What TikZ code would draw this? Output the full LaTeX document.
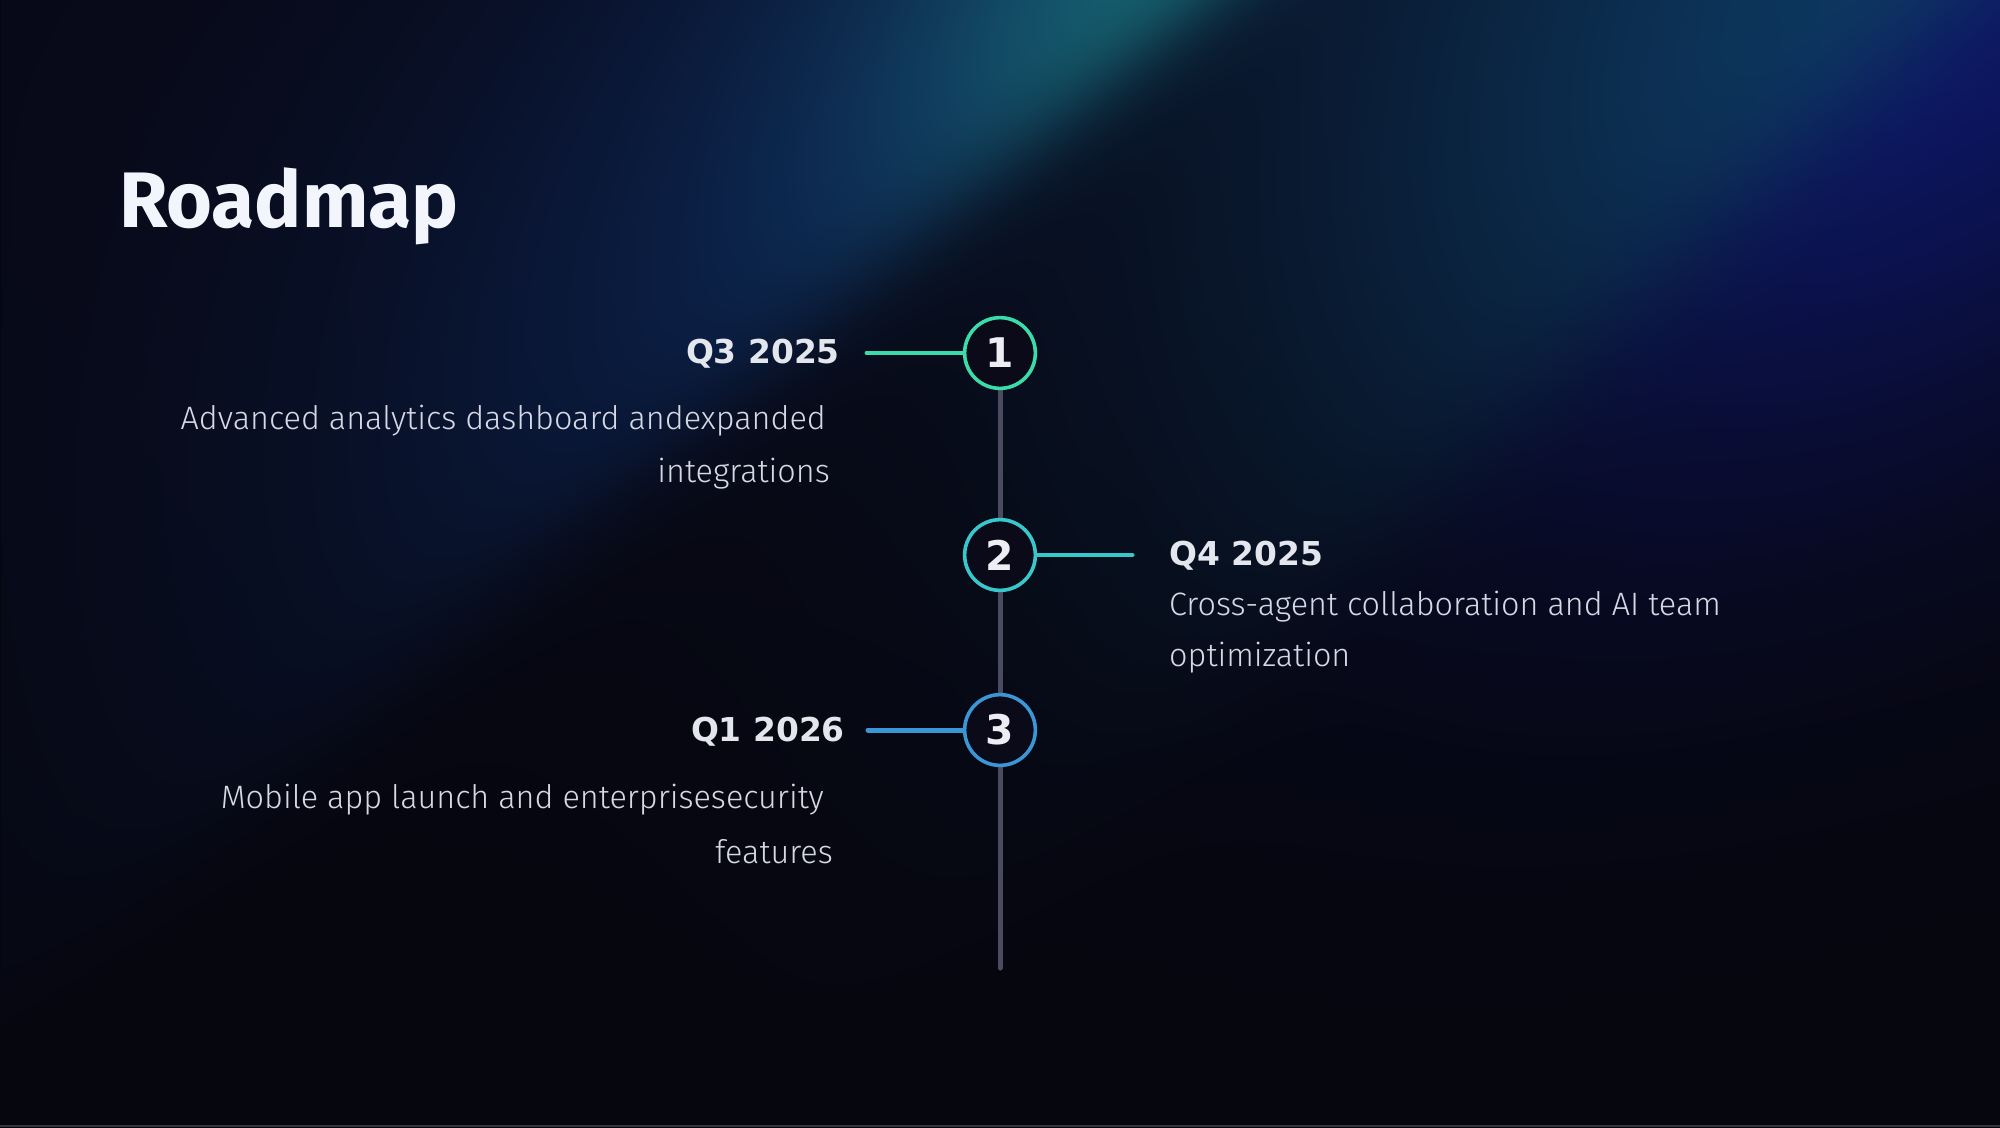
\documentclass[tikz,border=0pt]{standalone}
\usepackage{fontspec}
\setmainfont{Fira Sans}
\newfontfamily\descfont{Fira Sans Light}
\newfontfamily\markfont{DejaVu Sans}

\definecolor{basecol}{HTML}{06060F}
\definecolor{titlecol}{HTML}{F2F6FC}
\definecolor{datecol}{HTML}{E4E6EE}
\definecolor{desccol}{HTML}{D6D9E4}
\definecolor{digitcol}{HTML}{ECEEF4}
\definecolor{railcol}{HTML}{4A4B5E}
\definecolor{discfill}{HTML}{0A0A18}
\definecolor{stepone}{HTML}{3CDCAA}
\definecolor{steptwo}{HTML}{38C8CC}
\definecolor{stepthree}{HTML}{3A96D4}
\definecolor{edgeline}{HTML}{34343F}

% Backdrop: dark navy with soft diagonal light bands (blue, teal, sky, indigo).
% Each band: sigmoid edge x gaussian falloff across x gaussian falloff along.
\pgfdeclarefunctionalshading{auroraback}{\pgfpointorigin}{\pgfpoint{2000bp}{1127bp}}{}{
  1127 exch sub
  1 index 1200 sub dup 0.643 mul neg 2 index 0.766 mul sub
  exch 0.766 mul neg 2 index 0.643 mul add
  950 div dup mul neg 2.71828 exch exp exch
  dup 25 div neg dup 40 gt {pop 40} if 2.71828 exch exp 1 add 1 exch div
  exch 420 div dup mul neg 2.71828 exch exp mul mul 3 1 roll
  1 index 1205 sub dup 0.643 mul neg 2 index 0.766 mul sub
  exch 0.766 mul neg 2 index 0.643 mul add
  330 div dup mul neg 2.71828 exch exp exch
  dup 22 div neg dup 40 gt {pop 40} if 2.71828 exch exp 1 add 1 exch div
  exch 230 div dup mul neg 2.71828 exch exp mul mul 3 1 roll
  1 index 1955 sub dup 0.682 mul neg 2 index 0.731 mul sub
  exch 0.731 mul neg 2 index 0.682 mul add
  740 div dup mul neg 2.71828 exch exp exch
  dup 30 div neg dup 40 gt {pop 40} if 2.71828 exch exp 1 add 1 exch div
  exch 520 div dup mul neg 2.71828 exch exp mul mul 3 1 roll
  1 index 1955 sub dup -0.682 mul neg 2 index -0.731 mul sub
  exch -0.731 mul neg 2 index -0.682 mul add
  600 div dup mul neg 2.71828 exch exp exch
  dup 30 div neg dup 40 gt {pop 40} if 2.71828 exch exp 1 add 1 exch div
  exch 350 div dup mul neg 2.71828 exch exp mul mul 3 1 roll
  exch pop 600 div dup mul neg 2.71828 exch exp
  4 index 0.02 mul 4 index 0.035 mul add 3 index 0.02 mul add 2 index 0.02 mul add 1 index 0.008 mul add 0.022 add
  5 index 0.12 mul 5 index 0.22 mul add 4 index 0.19 mul add 3 index 0.05 mul add 2 index 0.012 mul add 0.022 add
  6 index 0.27 mul 6 index 0.06 mul add 5 index 0.29 mul add 4 index 0.30 mul add 3 index 0.035 mul add 0.055 add
  8 3 roll pop pop pop pop pop
}

\pgfdeclarelayer{bg}
\pgfdeclarelayer{rail}
\pgfsetlayers{bg,rail,main}

\tikzset{
  disc/.style={circle, draw=#1, fill=discfill, line width=3.6pt, minimum size=71pt,
    inner sep=0pt, text=digitcol, font=\markfont\bfseries\fontsize{41}{44}\selectfont},
  tick/.style={draw=#1, line width=5pt, line cap=round},
  rail/.style={draw=railcol, line width=5pt, line cap=round},
  datelabel/.style={inner sep=0pt, text=datecol, font=\markfont\bfseries\fontsize{33}{38}\selectfont},
  desclabel/.style={inner sep=0pt, text=desccol, font=\descfont\fontsize{32.5}{36}\selectfont},
}

\begin{document}
\begin{tikzpicture}[x=1bp, y=-1bp]
\useasboundingbox (0,0) rectangle (2000,1127);

\begin{pgfonlayer}{bg}
  \fill[basecol] (-2,-2) rectangle (2002,1129);
  \node[inner sep=0pt, anchor=south west] (backdrop) at (0,1127) {\pgfuseshading{auroraback}};
  \fill[edgeline] (0,1125) rectangle (2000,1127);
\end{pgfonlayer}

% title
\node[anchor=base west, inner sep=0pt, text=titlecol,
      font=\bfseries\fontsize{79}{82}\selectfont] (title) at (119,227) {Roadmap};

% milestones on the rail
\node[disc=stepone]   (c1) at (1000,353) {1};
\node[disc=steptwo]   (c2) at (1000,555) {2};
\node[disc=stepthree] (c3) at (1000,730) {3};
\coordinate (railend) at (1000,968);

\coordinate (t1) at (867,353);
\coordinate (t2) at (1132,555);
\coordinate (t3) at (868,730);

\begin{pgfonlayer}{rail}
  \draw[rail] (c1) -- (c2);
  \draw[rail] (c2) -- (c3);
  \draw[rail] (c3) -- (railend);
  \draw[tick=stepone] (c1) -- (t1);
  \draw[tick=steptwo] (c2) -- (t2);
  \draw[tick=stepthree] (c3) -- (t3);
\end{pgfonlayer}

% Q3 2025
\node[datelabel, anchor=base east] (d1) at (840,363) {Q3 2025};
\node[desclabel, anchor=base east] (e1a) at (826,429) {Advanced analytics dashboard andexpanded};
\node[desclabel, anchor=base east] (e1b) at (830,482) {integrations};

% Q4 2025
\node[datelabel, anchor=base west] (d2) at (1169,565) {Q4 2025};
\node[desclabel, anchor=base west] (e2a) at (1169,615) {Cross-agent collaboration and AI team};
\node[desclabel, anchor=base west] (e2b) at (1169,666) {optimization};

% Q1 2026
\node[datelabel, anchor=base east] (d3) at (845,741) {Q1 2026};
\node[desclabel, anchor=base east] (e3a) at (824,808) {Mobile app launch and enterprisesecurity};
\node[desclabel, anchor=base east] (e3b) at (833,863) {features};
\end{tikzpicture}
\end{document}
